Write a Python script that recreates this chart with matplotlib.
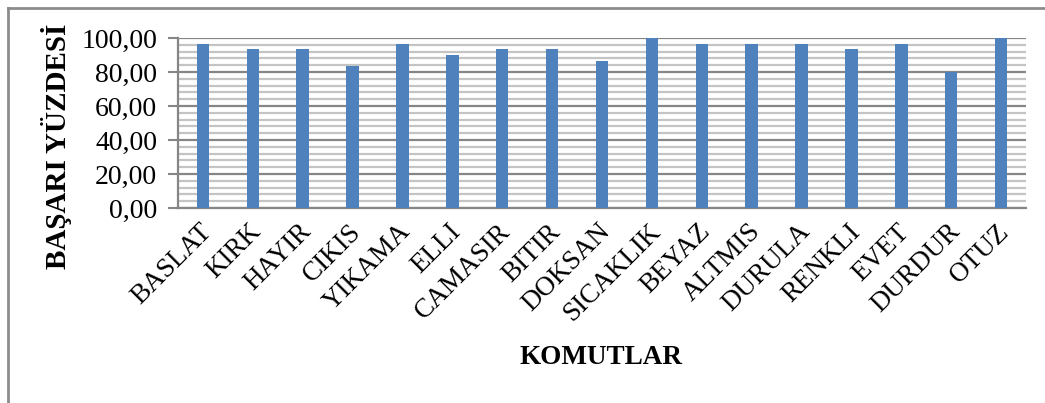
import matplotlib
matplotlib.use("Agg")
import matplotlib.pyplot as plt
import matplotlib.transforms as mtransforms
from matplotlib.ticker import MultipleLocator, FuncFormatter
from matplotlib.lines import Line2D

# Recognition success rate per voice command (%)
komutlar = ["BASLAT", "KIRK", "HAYIR", "CIKIS", "YIKAMA", "ELLI", "CAMASIR",
            "BITIR", "DOKSAN", "SICAKLIK", "BEYAZ", "ALTMIS", "DURULA",
            "RENKLI", "EVET", "DURDUR", "OTUZ"]
basari = [96.67, 93.33, 93.33, 83.33, 96.67, 90.00, 93.33, 93.33, 86.67,
          100.00, 96.67, 96.67, 96.67, 93.33, 96.67, 80.00, 100.00]

plt.rcParams['font.family'] = ['Liberation Serif', 'DejaVu Serif']

fig = plt.figure(figsize=(10.45, 4.03), dpi=100)
ax = fig.add_axes([178 / 1045, 1 - 208 / 403, 848 / 1045, 170 / 403])

x = list(range(len(komutlar)))
ax.bar(x, basari, width=0.25, color="#4F81BD", zorder=3)

ax.set_xlim(-0.5, len(komutlar) - 0.5)
ax.set_ylim(0, 100)
ax.yaxis.set_major_locator(MultipleLocator(20))
ax.yaxis.set_minor_locator(MultipleLocator(4))
ax.yaxis.set_major_formatter(FuncFormatter(lambda v, p: f"{v:.2f}".replace(".", ",")))

ax.grid(axis="y", which="minor", color="#C4C4C4", linewidth=1.6, zorder=0)
ax.grid(axis="y", which="major", color="#868686", linewidth=1.6, zorder=1)
ax.set_axisbelow(True)

for s in ["top", "right"]:
    ax.spines[s].set_visible(False)
for s in ["left", "bottom"]:
    ax.spines[s].set_color("#868686")
    ax.spines[s].set_linewidth(1.6)

ax.tick_params(axis="y", which="major", direction="out", length=7,
               color="#868686", width=1.5, labelsize=20, pad=8)
ax.tick_params(axis="y", which="minor", length=0)
ax.tick_params(axis="x", length=0, pad=8)

ax.set_xticks(x)
ax.set_xticklabels(komutlar, rotation=45, ha="right", va="top",
                   rotation_mode="anchor", fontsize=19.5)
shift = mtransforms.ScaledTranslation(-4 / 100, 0, fig.dpi_scale_trans)
for lbl in ax.get_xticklabels():
    lbl.set_transform(lbl.get_transform() + shift)

fig.text(56 / 1045, 1 - 146 / 403, "BAŞARI YÜZDESİ", fontsize=21,
         fontweight="bold", rotation=90, ha="center", va="center")
fig.text(601 / 1045, 1 - 358 / 403, "KOMUTLAR", fontsize=19.5,
         fontweight="bold", ha="center", va="center")

# chart frame (top and left edges)
fig.add_artist(Line2D([8 / 1045, 8 / 1045], [0, 1 - 8 / 403],
                      transform=fig.transFigure, color="#8C8C8C", linewidth=2))
fig.add_artist(Line2D([8 / 1045, 1], [1 - 8 / 403, 1 - 8 / 403],
                      transform=fig.transFigure, color="#8C8C8C", linewidth=2))

fig.savefig("out.png", dpi=100)
